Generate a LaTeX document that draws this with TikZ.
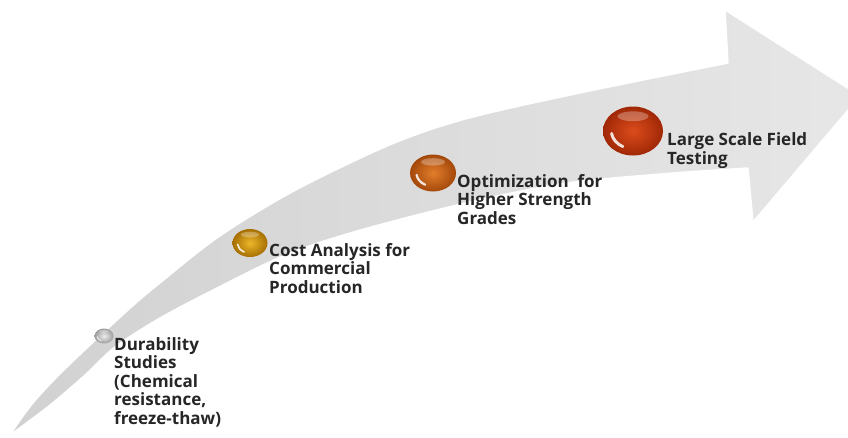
\documentclass[tikz,border=0pt]{standalone}
\usepackage{fontspec}
\newfontfamily\lblfont{Open Sans}
\usetikzlibrary{shapes.geometric}

\definecolor{labeltext}{HTML}{262626}
\definecolor{silverIn}{HTML}{EDEDED}
\definecolor{silverOut}{HTML}{9C9C9C}
\definecolor{goldIn}{HTML}{EDB72A}
\definecolor{goldOut}{HTML}{A66F02}
\definecolor{orangeIn}{HTML}{E27E2C}
\definecolor{orangeOut}{HTML}{A4480A}
\definecolor{redIn}{HTML}{DC4C1C}
\definecolor{redOut}{HTML}{A02806}

% glossy orb: name, centre, width, height, inner colour, outer colour
\newcommand\gem[6]{%
  \node[orb, minimum width=#3pt, minimum height=#4pt,
        inner color=#5, outer color=#6] (#1) at #2 {};
  \begin{scope}[shift={(#1.center)}]
    \fill[white, opacity=.28] (0,{-0.3*#4}) ellipse [x radius={0.26*#3}, y radius={0.1*#4}];
    \draw[white, opacity=.85, line width={0.06*#4pt}, line cap=round]
      ({0.36*#3*cos(172)},{0.36*#4*sin(172)})
      arc[start angle=172, end angle=118, x radius={0.36*#3}, y radius={0.36*#4}];
  \end{scope}}

\begin{document}
\begin{tikzpicture}[x=1pt, y=-1pt,
  orb/.style={ellipse, inner sep=0pt, draw=none},
  % placed by the baseline of the last line
  steplabel/.style={anchor=base west, inner sep=0pt, align=left, text=labeltext,
    font=\lblfont\bfseries\fontsize{17}{18.5}\selectfont}]
\useasboundingbox (0,0) rectangle (848,437);
\clip (0,0) rectangle (848,437);
\fill[white] (0,0) rectangle (848,437);

% curved arrow body
\path[draw=white, line width=1.4pt, line join=round,
      left color=gray!36, right color=gray!19]
  (10,435)
  -- plot[smooth, tension=0.55] coordinates {(10,435) (33,403) (67,367) (127,311) (160,283)
      (217,238) (283,197) (350,163) (407,138) (473,117) (580,93) (728,63)}
  -- (725,10) -- (860,96) -- (753,222) -- (748,168)
  -- plot[smooth, tension=0.55] coordinates {(748,168) (660,174) (560,184) (457,205)
      (350,233) (283,256) (217,288) (160,318) (115,347) (85,375) (50,405) (10,435)}
  -- cycle;

% milestones
\gem{b1}{(104,336)}{19}{15}{silverIn}{silverOut}
\gem{b2}{(250,243)}{35}{28}{goldIn}{goldOut}
\gem{b3}{(433,173)}{46}{37}{orangeIn}{orangeOut}
\gem{b4}{(633,131)}{60}{49}{redIn}{redOut}

\node[steplabel] (t1) at (114,424) {Durability\\Studies\\(Chemical\\resistance,\\freeze-thaw)};
\node[steplabel] (t2) at (269,293) {Cost Analysis for\\Commercial\\Production};
\node[steplabel] (t3) at (457,224) {Optimization\ \ for\\Higher Strength\\Grades};
\node[steplabel] (t4) at (667,164) {Large Scale Field\\Testing};
\end{tikzpicture}
\end{document}
